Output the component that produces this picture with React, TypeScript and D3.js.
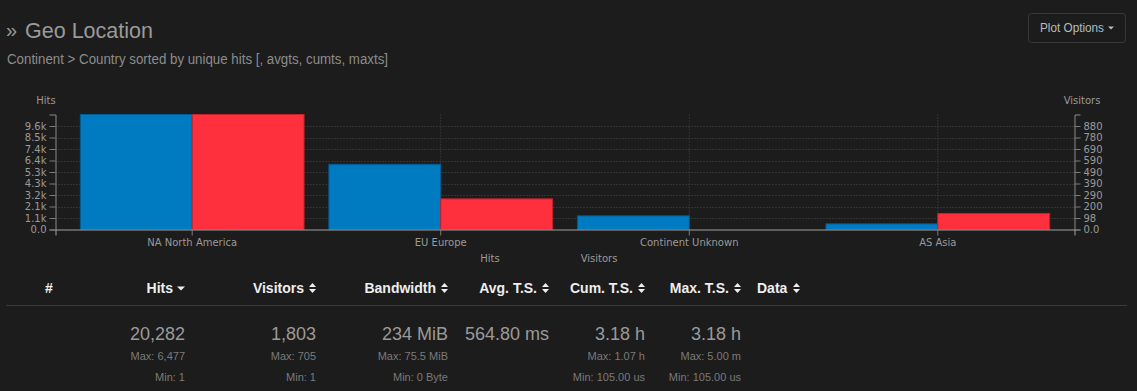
import { useEffect, useRef } from "react";
import * as d3 from "d3";

const WIDTH = 1137;
const HEIGHT = 391;

const continents = ["NA North America", "EU Europe", "Continent Unknown", "AS Asia"];
const hits = [10632, 6025, 1260, 520];
const visitors = [980, 261, 0, 137];

const columns = ["Hits", "Visitors", "Bandwidth", "Avg. T.S.", "Cum. T.S.", "Max. T.S."];
const columnRight = [185, 316, 448, 549, 645, 741];
const totals = ["20,282", "1,803", "234 MiB", "564.80 ms", "3.18 h", "3.18 h"];
const maxLabels = ["Max: 6,477", "Max: 705", "Max: 75.5 MiB", "", "Max: 1.07 h", "Max: 5.00 m"];
const minLabels = ["Min: 1", "Min: 1", "Min: 0 Byte", "", "Min: 105.00 us", "Min: 105.00 us"];

const BG = "#1c1c1c";
const BLUE = "#007bc2";
const RED = "#ff303e";
const CHART = { left: 55.5, right: 1074.5, top: 114.5, bottom: 229.5 };
const SANS = "'Liberation Sans', Arial, sans-serif";
const CHART_FONT = "'DejaVu Sans', sans-serif";

const GeoChart = () => {
  const axesRef = useRef<SVGGElement>(null);

  const x = d3
    .scaleBand<string>()
    .domain(continents)
    .range([CHART.left, CHART.right])
    .paddingInner(0.1)
    .paddingOuter(0.1);
  const yHits = d3.scaleLinear().domain([0, d3.max(hits)!]).range([CHART.bottom, CHART.top]);
  const yVis = d3.scaleLinear().domain([0, d3.max(visitors)!]).range([CHART.bottom, CHART.top]);
  const hitTicks = d3.range(10).map((i) => (i * d3.max(hits)!) / 10);
  const visTicks = d3.range(10).map((i) => (i * d3.max(visitors)!) / 10);
  const fmt = d3.format(".2s");

  useEffect(() => {
    const g = d3.select(axesRef.current);
    g.selectAll("*").remove();

    const style = (sel: any) => {
      sel.attr("font-family", CHART_FONT).attr("font-size", 10);
      sel.selectAll("path").attr("stroke", "#8a8a8a");
      sel.selectAll("line").attr("stroke", "#7a7a7a");
      sel.selectAll("text").attr("fill", "#9a9a9a");
    };

    g.append("g")
      .attr("transform", `translate(${CHART.left},0)`)
      .call(d3.axisLeft(yHits).tickValues(hitTicks).tickFormat(fmt as any).tickSizeOuter(6))
      .call(style);

    g.append("g")
      .attr("transform", `translate(${CHART.right},0)`)
      .call(d3.axisRight(yVis).tickValues(visTicks).tickFormat(fmt as any).tickSizeOuter(6))
      .call(style);

    g.append("g")
      .attr("transform", `translate(0,${CHART.bottom})`)
      .call(d3.axisBottom(x).tickSizeOuter(6))
      .call(style)
      .call((s) => s.select(".domain").attr("stroke", "#a0a0a0"));
  }, []);

  const bw = x.bandwidth() / 2;

  return (
    <svg width={WIDTH} height={HEIGHT} style={{ position: "absolute", left: 0, top: 0 }}>
      <rect width={WIDTH} height={HEIGHT} fill={BG} />

      {/* header */}
      <text x={6} y={37} fill="#9a9a9a" fontFamily={SANS} fontSize={20}>»</text>
      <text x={25} y={37.5} fill="#9a9a9a" fontFamily={SANS} fontSize={22} textLength={128} lengthAdjust="spacingAndGlyphs">
        Geo Location
      </text>
      <text x={7} y={63.5} fill="#8c8c8c" fontFamily={SANS} fontSize={14} textLength={381} lengthAdjust="spacingAndGlyphs">
        Continent &gt; Country sorted by unique hits [, avgts, cumts, maxts]
      </text>

      <rect x={1028.5} y={13.5} width={97} height={29} rx={3} fill={BG} stroke="#383838" />
      <text x={1040} y={32} fill="#b4bcc4" fontFamily={SANS} fontSize={12} textLength={64} lengthAdjust="spacingAndGlyphs">
        Plot Options
      </text>
      <path d="M1108,26.5 L1114,26.5 L1111,29.5 Z" fill="#b4bcc4" />

      {/* grid */}
      <g stroke="#4a4a4a" strokeDasharray="1,2">
        {hitTicks.slice(1).map((t) => (
          <line key={t} x1={CHART.left} x2={CHART.right} y1={Math.round(yHits(t)) + 0.5} y2={Math.round(yHits(t)) + 0.5} />
        ))}
        {continents.map((c) => (
          <line key={c} x1={x(c)! + bw} x2={x(c)! + bw} y1={CHART.top} y2={CHART.bottom} />
        ))}
      </g>

      {/* bars */}
      {continents.map((c, i) => (
        <g key={c}>
          {hits[i] > 0 && (
            <rect
              x={x(c)!}
              y={yHits(hits[i])}
              width={bw}
              height={CHART.bottom - yHits(hits[i])}
              fill={BLUE}
              stroke={d3.color(BLUE)!.darker(0.8).toString()}
            />
          )}
          {visitors[i] > 0 && (
            <rect
              x={x(c)! + bw}
              y={yVis(visitors[i])}
              width={bw}
              height={CHART.bottom - yVis(visitors[i])}
              fill={RED}
              stroke={d3.color(RED)!.darker(0.8).toString()}
            />
          )}
        </g>
      ))}

      <g ref={axesRef} />

      <g fontFamily={CHART_FONT} fontSize={10} fill="#9a9a9a" textAnchor="middle">
        <text x={46} y={104}>Hits</text>
        <text x={1082} y={104}>Visitors</text>
        <text x={490} y={262}>Hits</text>
        <text x={599} y={262}>Visitors</text>
      </g>

      {/* table */}
      <g fontFamily={SANS}>
        <text x={49} y={293} fill="#eeeeee" fontSize={14} fontWeight="bold" textAnchor="middle">#</text>
        {columns.map((c, i) => (
          <g key={c}>
            <text x={columnRight[i] - 12} y={293} fill="#eeeeee" fontSize={14} fontWeight="bold" textAnchor="end">
              {c}
            </text>
            {i === 0 ? (
              <path d={`M${columnRight[i] - 8},286.5 L${columnRight[i]},286.5 L${columnRight[i] - 4},290.5 Z`} fill="#eeeeee" />
            ) : (
              <path
                d={`M${columnRight[i] - 7},287 L${columnRight[i]},287 L${columnRight[i] - 3.5},283 Z M${columnRight[i] - 7},289 L${columnRight[i]},289 L${columnRight[i] - 3.5},293 Z`}
                fill="#eeeeee"
              />
            )}
            <text x={columnRight[i]} y={340} fill="#9a9a9a" fontSize={18} textAnchor="end">
              {totals[i]}
            </text>
            <text x={columnRight[i]} y={360} fill="#7a7a7a" fontSize={11} textAnchor="end">
              {maxLabels[i]}
            </text>
            <text x={columnRight[i]} y={381} fill="#7a7a7a" fontSize={11} textAnchor="end">
              {minLabels[i]}
            </text>
          </g>
        ))}
        <text x={757} y={293} fill="#eeeeee" fontSize={14} fontWeight="bold">Data</text>
        <path d="M793,287 L800,287 L796.5,283 Z M793,289 L800,289 L796.5,293 Z" fill="#eeeeee" />
        <line x1={6} x2={1127} y1={305.5} y2={305.5} stroke="#383838" />
      </g>
    </svg>
  );
};

export default function App() {
  return <GeoChart />;
}
